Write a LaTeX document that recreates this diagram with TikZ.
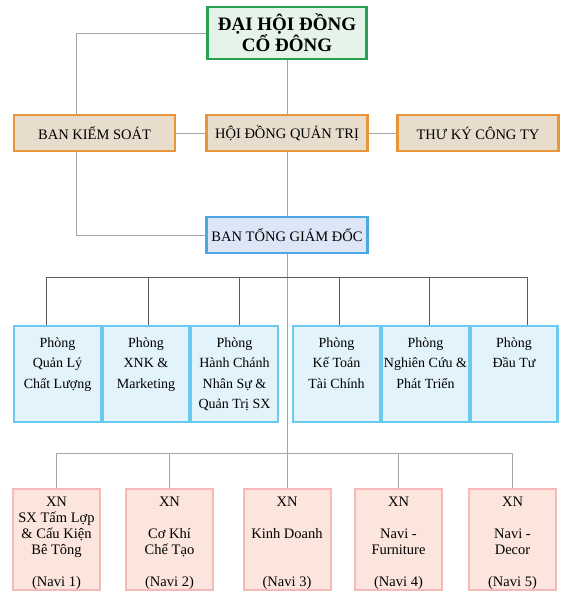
\documentclass[tikz,border=0pt]{standalone}
\usepackage{fontspec}
\setmainfont{Liberation Serif}
\definecolor{dhline}{HTML}{27A24F}
\definecolor{dhfill}{HTML}{E5F3EA}
\definecolor{hdline}{HTML}{E8963A}
\definecolor{hdfill}{HTML}{E8DDCC}
\definecolor{tgdline}{HTML}{4BA8E0}
\definecolor{tgdfill}{HTML}{DDE6F6}
\definecolor{pline}{HTML}{6CCAF0}
\definecolor{pfill}{HTML}{E2F3FB}
\definecolor{xnline}{HTML}{F5B9B9}
\definecolor{xnfill}{HTML}{FBE5DC}
\begin{document}
\begin{tikzpicture}[x=1pt,y=-1pt,
  box/.style={draw,line width=2.5pt,inner sep=0pt,align=center},
  dhbox/.style={box,draw=dhline,fill=dhfill,minimum width=159pt,minimum height=52pt,font=\bfseries\fontsize{19}{21}\selectfont},
  hdbox/.style={box,draw=hdline,fill=hdfill,minimum width=161pt,minimum height=36pt,font=\fontsize{14.5}{17}\selectfont},
  tgdbox/.style={hdbox,draw=tgdline,fill=tgdfill},
  pbox/.style={box,draw=pline,fill=pfill,minimum width=87pt,minimum height=96pt,font=\fontsize{14}{20.5}\selectfont,
    execute at begin node=\rule[-2pt]{0pt}{73.5pt}},
  xnbox/.style={box,line width=2pt,draw=xnline,fill=xnfill,minimum width=87pt,minimum height=101pt,font=\fontsize{14.5}{16}\selectfont,
    execute at begin node=\rule[-4pt]{0pt}{101pt}},
  link/.style={draw=black!35,line width=1pt},
  plink/.style={draw=black!65,line width=0.8pt}]
\useasboundingbox[fill=white] (0,0) rectangle (561,592);

\node[dhbox] (dhcd) at (287,33) {ĐẠI HỘI ĐỒNG\\CỔ ĐÔNG};
\node[hdbox] (bks) at (94.5,133) {BAN KIỂM SOÁT};
\node[hdbox] (hdqt) at (287,133) {HỘI ĐỒNG QUẢN TRỊ};
\node[hdbox] (tkct) at (478,133) {THƯ KÝ CÔNG TY};
\node[tgdbox] (btgd) at (287,235) {BAN TỔNG GIÁM ĐỐC};

\node[pbox] (pql) at (57.5,374) {Phòng\\Quản Lý\\Chất Lượng\\~};
\node[pbox] (pxnk) at (146,374) {Phòng\\XNK \&\\Marketing\\~};
\node[pbox] (phc) at (234.5,374) {Phòng\\Hành Chánh\\Nhân Sự \&\\Quản Trị SX};
\node[pbox] (pkt) at (336.5,374) {Phòng\\Kế Toán\\Tài Chính\\~};
\node[pbox] (pnc) at (425.5,374) {Phòng\\Nghiên Cứu \&\\Phát Triển\\~};
\node[pbox] (pdt) at (514,374) {Phòng\\Đầu Tư\\~\\~};

\node[xnbox] (xn1) at (56.5,539.5) {XN\\SX Tấm Lợp\\\& Cấu Kiện\\Bê Tông\\~\\(Navi 1)};
\node[xnbox] (xn2) at (169.5,539.5) {XN\\~\\Cơ Khí\\Chế Tạo\\~\\(Navi 2)};
\node[xnbox] (xn3) at (287,539.5) {XN\\~\\Kinh Doanh\\~\\~\\(Navi 3)};
\node[xnbox] (xn4) at (398.5,539.5) {XN\\~\\Navi -\\Furniture\\~\\(Navi 4)};
\node[xnbox] (xn5) at (512.5,539.5) {XN\\~\\Navi -\\Decor\\~\\(Navi 5)};

\draw[link] (dhcd.west) -| ([xshift=-18.5pt]bks.north);
\draw[link] (dhcd) -- (hdqt);
\draw[link] (bks) -- (hdqt);
\draw[link] (hdqt) -- (tkct);
\draw[link] ([xshift=-18.5pt]bks.south) |- (btgd.west);
\draw[link] (hdqt) -- (btgd);
\draw[link] (btgd) -- (xn3);

% phong ban
\coordinate (pbus) at (0,277);
\draw[plink] ([xshift=-11pt]pql.north) |- ([xshift=13pt]pdt.north |- pbus) -- ([xshift=13pt]pdt.north);
\foreach \n/\dx in {pxnk/2,phc/4.5,pkt/2.5,pnc/3.5}
  \draw[plink] ([xshift=\dx pt]\n.north) -- ([xshift=\dx pt]\n.north |- pbus);

% xi nghiep
\coordinate (xbus) at (0,453);
\draw[link] (xn1.north) |- (xn5.north |- xbus) -- (xn5.north);
\foreach \n in {xn2,xn4}
  \draw[link] (\n.north) -- (\n.north |- xbus);
\end{tikzpicture}
\end{document}
